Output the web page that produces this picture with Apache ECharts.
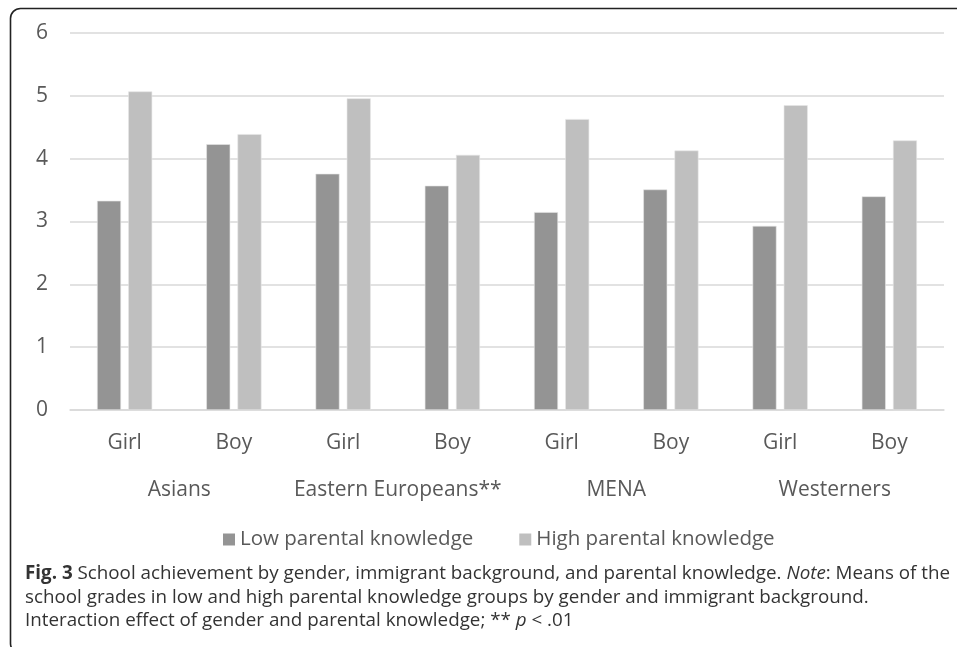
<!DOCTYPE html>
<html>
<head>
<meta charset="utf-8">
<script src="https://cdn.jsdelivr.net/npm/echarts@6/dist/echarts.min.js"></script>
<style>html,body{margin:0;padding:0;background:#fff;}#c{width:957px;height:647px;}</style>
</head>
<body>
<div id="c"></div>
<script>
const genders = ['Girl','Boy','Girl','Boy','Girl','Boy','Girl','Boy'];
const groups = ['Asians','Eastern Europeans**','MENA','Westerners'];
const seriesNames = ['Low parental knowledge','High parental knowledge'];
const lowValues = [3.33, 4.23, 3.76, 3.57, 3.15, 3.51, 2.93, 3.40];
const highValues = [5.07, 4.39, 4.96, 4.06, 4.63, 4.13, 4.85, 4.29];
const yTicks = [0, 6, 1];

const FONT = '"Open Sans", "Noto Sans", sans-serif';
const chart = echarts.init(document.getElementById('c'));
chart.setOption({
  animation: false,
  textStyle: { fontFamily: FONT },
  grid: { left: 70, right: 13, top: 33, bottom: 237 },
  legend: {
    data: seriesNames,
    top: 524,
    left: 218,
    itemWidth: 12, itemHeight: 12, itemGap: 46,
    icon: 'rect',
    itemStyle: { borderWidth: 0 },
    textStyle: { fontSize: 20.5, color: '#595959', fontFamily: FONT }
  },
  xAxis: [
    {
      type: 'category', data: genders, position: 'bottom',
      axisLine: { lineStyle: { color: '#d9d9d9', width: 1.5 } },
      axisTick: { show: false },
      axisLabel: { fontSize: 21, color: '#595959', margin: 23, fontFamily: FONT, interval: 0 }
    },
    {
      type: 'category', data: groups, position: 'bottom',
      axisLine: { show: false }, axisTick: { show: false },
      axisLabel: { fontSize: 21, color: '#595959', margin: 70, fontFamily: FONT, interval: 0 }
    }
  ],
  yAxis: {
    type: 'value', min: yTicks[0], max: yTicks[1], interval: yTicks[2],
    axisLine: { show: false }, axisTick: { show: false },
    axisLabel: { fontSize: 21, color: '#595959', margin: 22, fontFamily: FONT },
    splitLine: { lineStyle: { color: '#d9d9d9', width: 1.5 } }
  },
  series: [
    { name: seriesNames[0], type: 'bar', data: lowValues, barWidth: 24, barGap: '30%',
      itemStyle: { color: '#949494', borderColor: '#e6e6e6', borderWidth: 0.6 } },
    { name: seriesNames[1], type: 'bar', data: highValues, barWidth: 24,
      itemStyle: { color: '#bfbfbf', borderColor: '#e6e6e6', borderWidth: 0.6 } }
  ],
  graphic: [
    { type: 'rect', shape: { x: 10.5, y: 8.5, width: 1000, height: 645, r: [10, 0, 0, 10] },
      style: { fill: 'none', stroke: '#222', lineWidth: 1.6 }, silent: true },
    { type: 'text', left: 25, top: 562,
      style: {
        text: '{b|Fig. 3} School achievement by gender, immigrant background, and parental knowledge. {i|Note}: Means of the\nschool grades in low and high parental knowledge groups by gender and immigrant background.\nInteraction effect of gender and parental knowledge; ** {i|p} < .01',
        fontSize: 18.8, fill: '#333', lineHeight: 23.5, fontFamily: FONT,
        rich: {
          b: { fontWeight: 'bold', fontSize: 18.8, fill: '#333', fontFamily: FONT, lineHeight: 23.5 },
          i: { fontStyle: 'italic', fontSize: 18.8, fill: '#333', fontFamily: FONT, lineHeight: 23.5 }
        }
      }
    }
  ]
});
</script>
</body>
</html>
